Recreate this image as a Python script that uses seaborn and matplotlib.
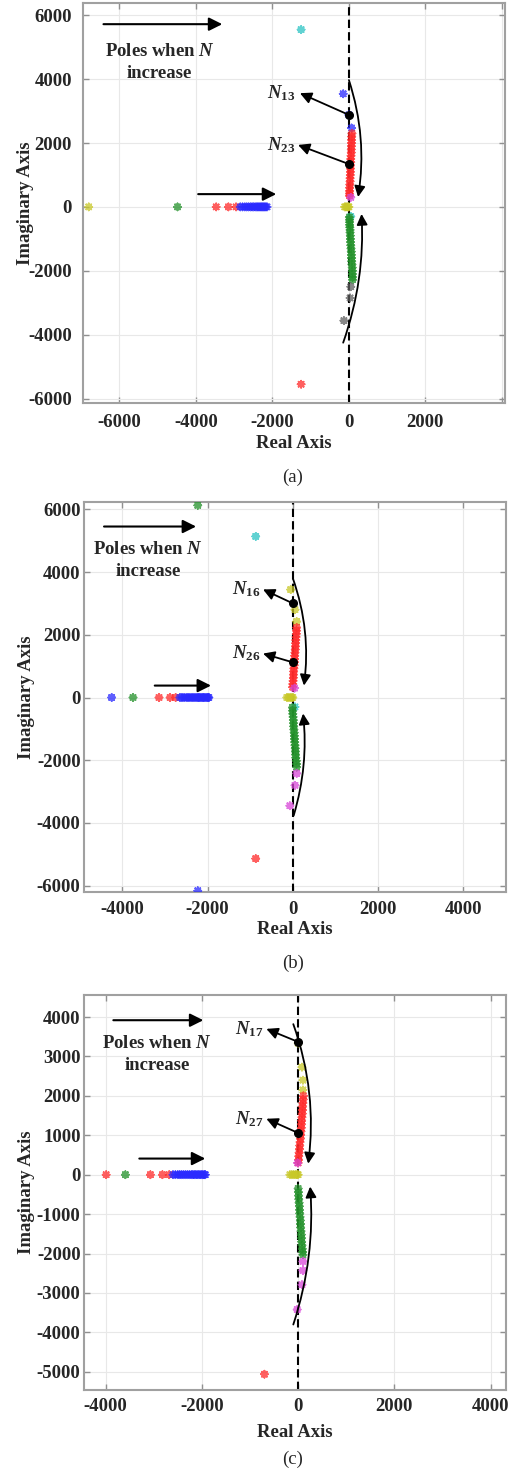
import matplotlib
matplotlib.use("Agg")
import matplotlib.pyplot as plt
import pandas as pd
import seaborn as sns

# colour codes used by the pole maps (MATLAB style)
PALETTE = {"b": "#2a2aff", "r": "#ff2a2a", "g": "#23912a", "c": "#2cc4c4",
           "m": "#d846d8", "y": "#c8c828", "k": "#606060"}

# ---------------- panel (a) ----------------
a_re = [-6800, -4480, -3470, -3150, -2950,
        -2840, -2780, -2720, -2670, -2620, -2570, -2530, -2490, -2450, -2410,
        -2380, -2350, -2320, -2290, -2260, -2230, -2200, -2170, -2140,
        -110, -80, -50, -20, 0,
        -1250, -150, 0, 70,
        80, 75, 70, 70, 65, 60, 60, 55, 50, 50, 45, 40, 40, 35, 30, 30, 25, 20, 20, 15, 15,
        50, 50,
        10, 15, 20, 20, 25, 30, 30, 35, 40, 45, 50, 55, 60, 65, 70, 75, 80, 85, 90, 90, 95, 95,
        50, 30, -130, -1250]
a_im = [0, 0, 0, 0, 0,
        0, 0, 0, 0, 0, 0, 0, 0, 0, 0,
        0, 0, 0, 0, 0, 0, 0, 0, 0,
        0, 0, 0, 0, 0,
        5550, 3540, 2880, 2470,
        2300, 2200, 2100, 2000, 1900, 1800, 1700, 1600, 1500, 1400, 1300, 1200, 1100, 1000,
        900, 800, 700, 600, 500, 420, 350,
        300, -300,
        -320, -400, -480, -560, -640, -720, -800, -900, -1000, -1100, -1200, -1300, -1400,
        -1500, -1600, -1700, -1800, -1900, -2000, -2100, -2200, -2280,
        -2500, -2850, -3560, -5550]
a_col = ["y", "g", "r", "r", "r"] + ["b"] * 19 + ["y"] * 5 + \
        ["c", "b", "b", "b"] + ["r"] * 21 + ["m", "c"] + ["g"] * 22 + ["k", "k", "k", "r"]
a_marks = [2880, 1340]

# ---------------- panel (b) ----------------
b_re = [-4250, -3750, -3140, -2880, -2750,
        -2650, -2600, -2550, -2500, -2460, -2420, -2380, -2340, -2300, -2260,
        -2230, -2200, -2170, -2140, -2110, -2080, -2050, -2020, -1990, -1970,
        -140, -100, -60, -30, 0,
        -2230, -870, -50, 50, 90,
        90, 85, 80, 75, 70, 65, 60, 55, 50, 45, 40, 35, 30, 25, 20, 15, 10, 5, 0, -5,
        40, 50,
        -10, -5, 0, 5, 10, 15, 20, 25, 30, 35, 40, 45, 50, 55, 60, 65, 70, 80, 85, 90,
        90, 50, -70, -870, -2230]
b_im = [0, 0, 0, 0, 0,
        0, 0, 0, 0, 0, 0, 0, 0, 0, 0,
        0, 0, 0, 0, 0, 0, 0, 0, 0, 0,
        0, 0, 0, 0, 0,
        6125, 5135, 3440, 2800, 2420,
        2230, 2130, 2030, 1930, 1830, 1730, 1630, 1530, 1430, 1330, 1230, 1130, 1030, 930,
        830, 730, 630, 530, 430, 330,
        300, -300,
        -320, -420, -520, -620, -720, -820, -920, -1020, -1120, -1220, -1320, -1420, -1520,
        -1620, -1720, -1820, -1920, -2020, -2120, -2220,
        -2420, -2800, -3450, -5135, -6160]
b_col = ["b", "g", "r", "r", "r"] + ["b"] * 20 + ["y"] * 5 + \
        ["g", "c", "y", "y", "y"] + ["r"] * 20 + ["m", "c"] + ["g"] * 20 + ["m", "m", "m", "r", "b"]
b_marks = [3000, 1120]

# ---------------- panel (c) ----------------
c_re = [-3990, -3590, -3070, -2820, -2680,
        -2600, -2550, -2500, -2460, -2420, -2380, -2340, -2300, -2260, -2220,
        -2190, -2160, -2130, -2100, -2070, -2040, -2010, -1980, -1950, -1930,
        -170, -130, -90, -50, -20, 0,
        0, 80, 100, 100,
        110, 105, 100, 95, 90, 85, 80, 75, 70, 65, 60, 55, 50, 40, 35, 30, 20, 15, 10, 0,
        -10,
        0, 5, 10, 15, 20, 25, 30, 35, 40, 45, 50, 55, 60, 65, 70, 75, 80, 85, 95, 100,
        100, 100, 80, -20, -700]
c_im = [0, 0, 0, 0, 0,
        0, 0, 0, 0, 0, 0, 0, 0, 0, 0,
        0, 0, 0, 0, 0, 0, 0, 0, 0, 0,
        0, 0, 0, 0, 0, 0,
        3340, 2730, 2400, 2150,
        2000, 1910, 1820, 1730, 1640, 1550, 1460, 1370, 1280, 1190, 1100, 1010, 920, 830,
        740, 650, 560, 470, 380, 300,
        300,
        -350, -440, -530, -620, -710, -800, -890, -980, -1070, -1160, -1250, -1340, -1430,
        -1520, -1610, -1700, -1790, -1880, -1960, -2030,
        -2200, -2430, -2790, -3420, -5060]
c_col = ["r", "g", "r", "r", "r"] + ["b"] * 20 + ["y"] * 6 + \
        ["y", "y", "y", "y"] + ["r"] * 20 + ["m"] + ["g"] * 20 + ["m", "m", "m", "m", "r"]
c_marks = [3370, 1060]

SERIF = ["Liberation Serif", "DejaVu Serif"]
sns.set_style("whitegrid", {"grid.color": "#e8e8e8", "axes.edgecolor": "#a0a0a0"})
plt.rcParams["font.family"] = SERIF
plt.rcParams["font.weight"] = "bold"
plt.rcParams["axes.unicode_minus"] = False
plt.rcParams["mathtext.fontset"] = "custom"
plt.rcParams["mathtext.rm"] = "Liberation Serif:bold"
plt.rcParams["mathtext.it"] = "Liberation Serif:italic:bold"
plt.rcParams["mathtext.bf"] = "Liberation Serif:bold"

FS = 13.5
ARROW = dict(arrowstyle="-|>", color="k", lw=1.5, mutation_scale=20, shrinkA=0, shrinkB=0)


def draw_panel(ax, re, im, col, marks, xlim, ylim, xticks, yticks, xlabels,
               lab_y, xpad, ypad):
    df = pd.DataFrame({"re": re, "im": im, "col": col})
    ax.axvline(0, color="k", ls="--", lw=1.5, dashes=(4, 2), zorder=2)
    sns.scatterplot(data=df, x="re", y="im", hue="col", palette=PALETTE,
                    marker=(8, 2, 0), s=24, linewidth=1.4, alpha=0.75,
                    legend=False, ax=ax, zorder=3)
    ax.plot([0] * len(marks), marks, "o", color="k", ms=5.5, zorder=6)
    ax.set_xlim(xlim)
    ax.set_ylim(ylim)
    ax.set_xticks(xticks)
    ax.set_xticklabels(xlabels)
    ax.set_yticks(yticks)
    ax.tick_params(direction="in", length=4, width=1, color="#909090",
                   top=True, right=True, bottom=True, left=True, labelsize=FS)
    ax.tick_params(axis="x", pad=xpad)
    ax.tick_params(axis="y", pad=ypad)
    for lab in ax.get_xticklabels() + ax.get_yticklabels():
        lab.set_fontweight("bold")
    for sp in ax.spines.values():
        sp.set_linewidth(1.5)
    ax.grid(True, lw=0.8)
    ax.set_axisbelow(True)
    ax.set_xlabel("Real Axis", fontsize=FS, fontweight="bold")
    ax.set_ylabel("Imaginary Axis", fontsize=FS, fontweight="bold")
    ax.xaxis.set_label_coords(0.5, lab_y)
    ax.yaxis.set_label_coords(-0.117, 0.5)


def pole_labels(ax, marks, tips, names, text_x):
    for m, tip, name in zip(marks, tips, names):
        ax.annotate("", xy=tip, xytext=(0, m),
                    arrowprops=dict(arrowstyle="-|>", color="k", lw=1.3,
                                    mutation_scale=17, shrinkA=0, shrinkB=0))
        ax.text(text_x, tip[1], name, ha="right", va="center", fontsize=FS)


def curved(ax, start, end, rad):
    ax.annotate("", xy=end, xytext=start,
                arrowprops=dict(arrowstyle="-|>", color="k", lw=1.3, mutation_scale=16,
                                shrinkA=0, shrinkB=0,
                                connectionstyle="arc3,rad=%s" % rad))


def poles_text(ax, x, y):
    ax.text(x, y, "Poles when $N$\nincrease", ha="center", va="center",
            fontsize=FS, linespacing=1.4)


fig = plt.figure(figsize=(5.14, 14.71), dpi=100)
ax_a = fig.add_axes([0.1615, 0.7260, 0.821, 0.2719])
ax_b = fig.add_axes([0.1634, 0.3936, 0.821, 0.2651])
ax_c = fig.add_axes([0.1634, 0.0551, 0.821, 0.2685])

# (a)
draw_panel(ax_a, a_re, a_im, a_col, a_marks, (-6950, 4080), (-6140, 6380),
           [-6000, -4000, -2000, 0, 2000, 4000], [-6000, -4000, -2000, 0, 2000, 4000, 6000],
           ["-6000", "-4000", "-2000", "0", "2000", ""], -0.08, 8, 8)
ax_a.annotate("", xy=(-3310, 5720), xytext=(-6415, 5720), arrowprops=ARROW)
poles_text(ax_a, -4950, 4510)
ax_a.annotate("", xy=(-1900, 400), xytext=(-3940, 400), arrowprops=ARROW)
pole_labels(ax_a, a_marks, [(-1280, 3560), (-1330, 1940)],
            ["$N_{13}$", "$N_{23}$"], -1400)
curved(ax_a, (0, 3970), (240, 310), -0.12)
curved(ax_a, (-150, -4250), (330, -220), 0.1)

# (b)
draw_panel(ax_b, b_re, b_im, b_col, b_marks, (-4900, 5000), (-6200, 6230),
           [-4000, -2000, 0, 2000, 4000], [-6000, -4000, -2000, 0, 2000, 4000, 6000],
           ["-4000", "-2000", "0", "2000", "4000"], -0.075, 6.5, 2.5)
ax_b.annotate("", xy=(-2270, 5450), xytext=(-4430, 5450), arrowprops=ARROW)
poles_text(ax_b, -3400, 4370)
ax_b.annotate("", xy=(-1920, 380), xytext=(-3240, 380), arrowprops=ARROW)
pole_labels(ax_b, b_marks, [(-700, 3445), (-700, 1400)],
            ["$N_{16}$", "$N_{26}$"], -760)
curved(ax_b, (0, 3800), (260, 380), -0.12)
curved(ax_b, (20, -3760), (240, -510), 0.1)

# (c)
draw_panel(ax_c, c_re, c_im, c_col, c_marks, (-4450, 4320), (-5460, 4560),
           [-4000, -2000, 0, 2000, 4000], list(range(-5000, 5000, 1000)),
           ["-4000", "-2000", "0", "2000", "4000"], -0.085, 5.5, 2.5)
ax_c.annotate("", xy=(-1970, 3920), xytext=(-3840, 3920), arrowprops=ARROW)
poles_text(ax_c, -2930, 3040)
ax_c.annotate("", xy=(-1930, 410), xytext=(-3300, 410), arrowprops=ARROW)
pole_labels(ax_c, c_marks, [(-660, 3700), (-660, 1420)],
            ["$N_{17}$", "$N_{27}$"], -720)
curved(ax_c, (-100, 3820), (210, 280), -0.12)
curved(ax_c, (-100, -3800), (250, -300), 0.1)

for y, cap in [(0.6757, "(a)"), (0.3453, "(b)"), (0.0082, "(c)")]:
    fig.text(0.570, y, cap, ha="center", va="center", fontsize=FS, fontweight="normal")

fig.savefig("out.png", dpi=100)
